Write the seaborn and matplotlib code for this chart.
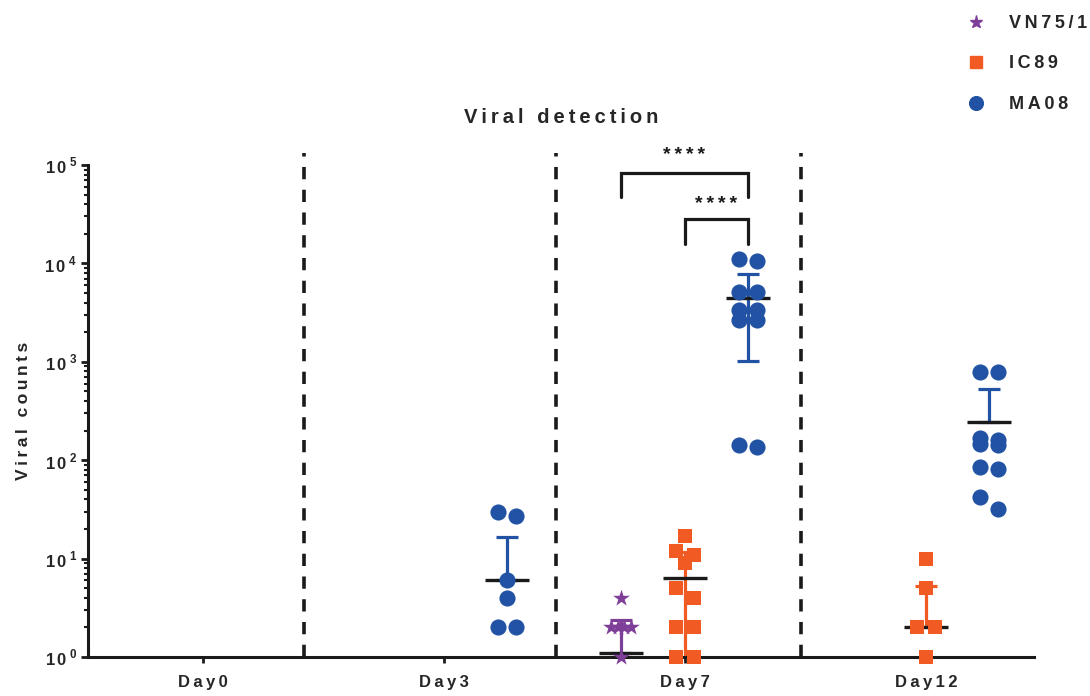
import numpy as np
import pandas as pd
import seaborn as sns
import matplotlib
matplotlib.use('Agg')
from matplotlib import pyplot as plt
from matplotlib.lines import Line2D

days = ['Day0', 'Day3', 'Day7', 'Day12']
strains = ['VN75/1', 'IC89', 'MA08']

# single animals (negatives are not shown on a log axis)
vn75_day7 = [4, 2, 2, 2, 2, 1]
ic89_day7 = [17, 12, 11, 9, 5, 4, 2, 2, 1, 1]
ic89_day12 = [10, 5, 2, 2, 1]
ma08_day3 = [30, 27, 6, 4, 2, 2]
ma08_day7 = [11000, 10500, 5100, 5100, 3350, 3350, 2650, 2650, 142, 136]
ma08_day12 = [790, 790, 168, 160, 146, 143, 85, 81, 42, 32]

# mean and SEM per strain for Day0..Day12 (nan = nothing detected)
vn75_mean = [np.nan, np.nan, 1.1, np.nan]
vn75_sem = [np.nan, np.nan, 1.3, np.nan]
ic89_mean = [np.nan, np.nan, 6.35, 2.0]
ic89_sem = [np.nan, np.nan, 5.4, 3.3]
ma08_mean = [np.nan, 6.0, 4420, 244]
ma08_sem = [np.nan, 10.6, 3400, 283]

points = {
    'VN75/1': {'Day7': vn75_day7},
    'IC89': {'Day7': ic89_day7, 'Day12': ic89_day12},
    'MA08': {'Day3': ma08_day3, 'Day7': ma08_day7, 'Day12': ma08_day12},
}
means = {'VN75/1': (vn75_mean, vn75_sem), 'IC89': (ic89_mean, ic89_sem), 'MA08': (ma08_mean, ma08_sem)}

# styling
style = {
    'VN75/1': dict(color='#7E3F98', marker='*', s=160, dx=-0.265, per_row=4, step=6.5),
    'IC89': dict(color='#F15A22', marker='s', s=110, dx=0.0, per_row=2, step=18),
    'MA08': dict(color='#2152A3', marker='o', s=135, dx=0.26, per_row=2, step=18),
}
PX_DECADE = 98.4
PX_UNIT = 241.0


def spaced(s):
    # wide letter spacing like the original figure
    return '\u2009'.join(s)


def column_offsets(values, per_row, step):
    # put neighbouring values side by side, like a column scatter
    logs = np.log10(values) * PX_DECADE
    offs = np.zeros(len(values))
    i = 0
    while i < len(values):
        j = i + 1
        while j < len(values) and j - i < per_row and abs(logs[i] - logs[j]) < 14:
            j += 1
        k = j - i
        offs[i:j] = (np.arange(k) - (k - 1) / 2) * step
        i = j
    return offs / PX_UNIT


rows = []
for strain, by_day in points.items():
    st = style[strain]
    for day, vals in by_day.items():
        offs = column_offsets(vals, st['per_row'], st['step'])
        for v, o in zip(vals, offs):
            rows.append({'strain': strain, 'day': day, 'value': v,
                         'x': days.index(day) + st['dx'] + o})
df = pd.DataFrame(rows)

sns.set_style('ticks')
plt.rcParams['font.family'] = ['Liberation Sans', 'DejaVu Sans']
plt.rcParams['mathtext.fontset'] = 'custom'
plt.rcParams['mathtext.bf'] = 'Liberation Sans:bold'
plt.rcParams['mathtext.rm'] = 'Liberation Sans'

fig = plt.figure(figsize=(10.9, 6.96), dpi=100)
ax = fig.add_axes([88 / 1090, 39 / 696, 946 / 1090, 492 / 696])
ax.set_yscale('log')
ax.set_ylim(1, 1e5)
ax.set_xlim(-0.477, 3.448)

# error bars (mean +/- SEM), lower part only if it stays positive
for strain in strains:
    st = style[strain]
    m, e = np.array(means[strain][0]), np.array(means[strain][1])
    x = np.arange(len(days)) + st['dx']
    lo = np.where(m - e > 0, e, 0)
    ok = ~np.isnan(m)
    ax.errorbar(x[ok], m[ok], yerr=[lo[ok], e[ok]], fmt='none', ecolor=st['color'],
                elinewidth=2.3, capsize=8, capthick=2.3, zorder=2)
    ax.hlines(m[ok], x[ok] - 0.091, x[ok] + 0.091, color='#1a1a1a', lw=2.4, zorder=3)

# single values
for strain in strains:
    st = style[strain]
    sub = df[df['strain'] == strain]
    sns.scatterplot(data=sub, x='x', y='value', ax=ax, marker=st['marker'], color=st['color'],
                    s=st['s'], linewidth=0, zorder=4, clip_on=False, legend=False)

# dashed separators between days
ax.vlines([0.42, 1.465, 2.48], 1, 1.32e5, colors='#1a1a1a', lw=2.6,
          linestyles=(0, (3.4, 2.9)), clip_on=False, zorder=1)

# significance brackets
x_vn, x_ic, x_ma = 2 + style['VN75/1']['dx'], 2 + style['IC89']['dx'], 2 + style['MA08']['dx']
ax.plot([x_vn, x_vn, x_ma, x_ma], [10 ** 4.675, 10 ** 4.92, 10 ** 4.92, 10 ** 4.675],
        color='#1a1a1a', lw=2.3, clip_on=False, solid_joinstyle='miter')
ax.plot([x_ic, x_ic, x_ma, x_ma], [10 ** 4.2, 10 ** 4.45, 10 ** 4.45, 10 ** 4.2],
        color='#1a1a1a', lw=2.3, clip_on=False, solid_joinstyle='miter')
ax.text((x_vn + x_ma) / 2, 10 ** 5.1, spaced('****'), ha='center', va='center',
        fontsize=14, fontweight='bold', color='#1a1a1a')
ax.text((x_ic + x_ma) / 2, 10 ** 4.6, spaced('****'), ha='center', va='center',
        fontsize=14, fontweight='bold', color='#1a1a1a')

# axes cosmetics
sns.despine(ax=ax)
for sp in ['left', 'bottom']:
    ax.spines[sp].set_linewidth(2.2)
    ax.spines[sp].set_color('#1a1a1a')
ax.set_xticks(range(len(days)))
ax.set_xticklabels([spaced(d) for d in days], fontsize=12, fontweight='bold')
ax.set_yticks([10 ** k for k in range(6)])
ax.set_yticklabels([r'$\mathbf{1\,0\,}^{\mathbf{%d}}$' % k for k in range(6)], fontsize=12)
ax.tick_params(axis='x', length=4, width=2, pad=9, color='#1a1a1a')
ax.tick_params(axis='y', which='major', length=5, width=2, pad=3, color='#1a1a1a')
ax.tick_params(axis='y', which='minor', length=3, width=1.5, color='#1a1a1a')
ax.set_xlabel('')
ax.set_ylabel(spaced('Viral counts'), fontsize=12.5, fontweight='bold', labelpad=10)
ax.set_title(spaced('Viral detection'), fontsize=14.5, fontweight='bold', pad=30)

handles = [Line2D([], [], linestyle='none', marker=style[s]['marker'], color=style[s]['color'],
                  markersize=np.sqrt(style[s]['s']) * (0.85 if s != 'VN75/1' else 0.75))
           for s in strains]
ax.legend(handles, [spaced(s) for s in strains], loc='upper left',
          bbox_to_anchor=(958 / 1090, 1 - 6 / 696), bbox_transform=fig.transFigure,
          frameon=False, handlelength=1.0, handletextpad=1.3, labelspacing=1.3,
          borderpad=0, prop={'weight': 'bold', 'size': 13})

fig.savefig('out.png', dpi=100)
